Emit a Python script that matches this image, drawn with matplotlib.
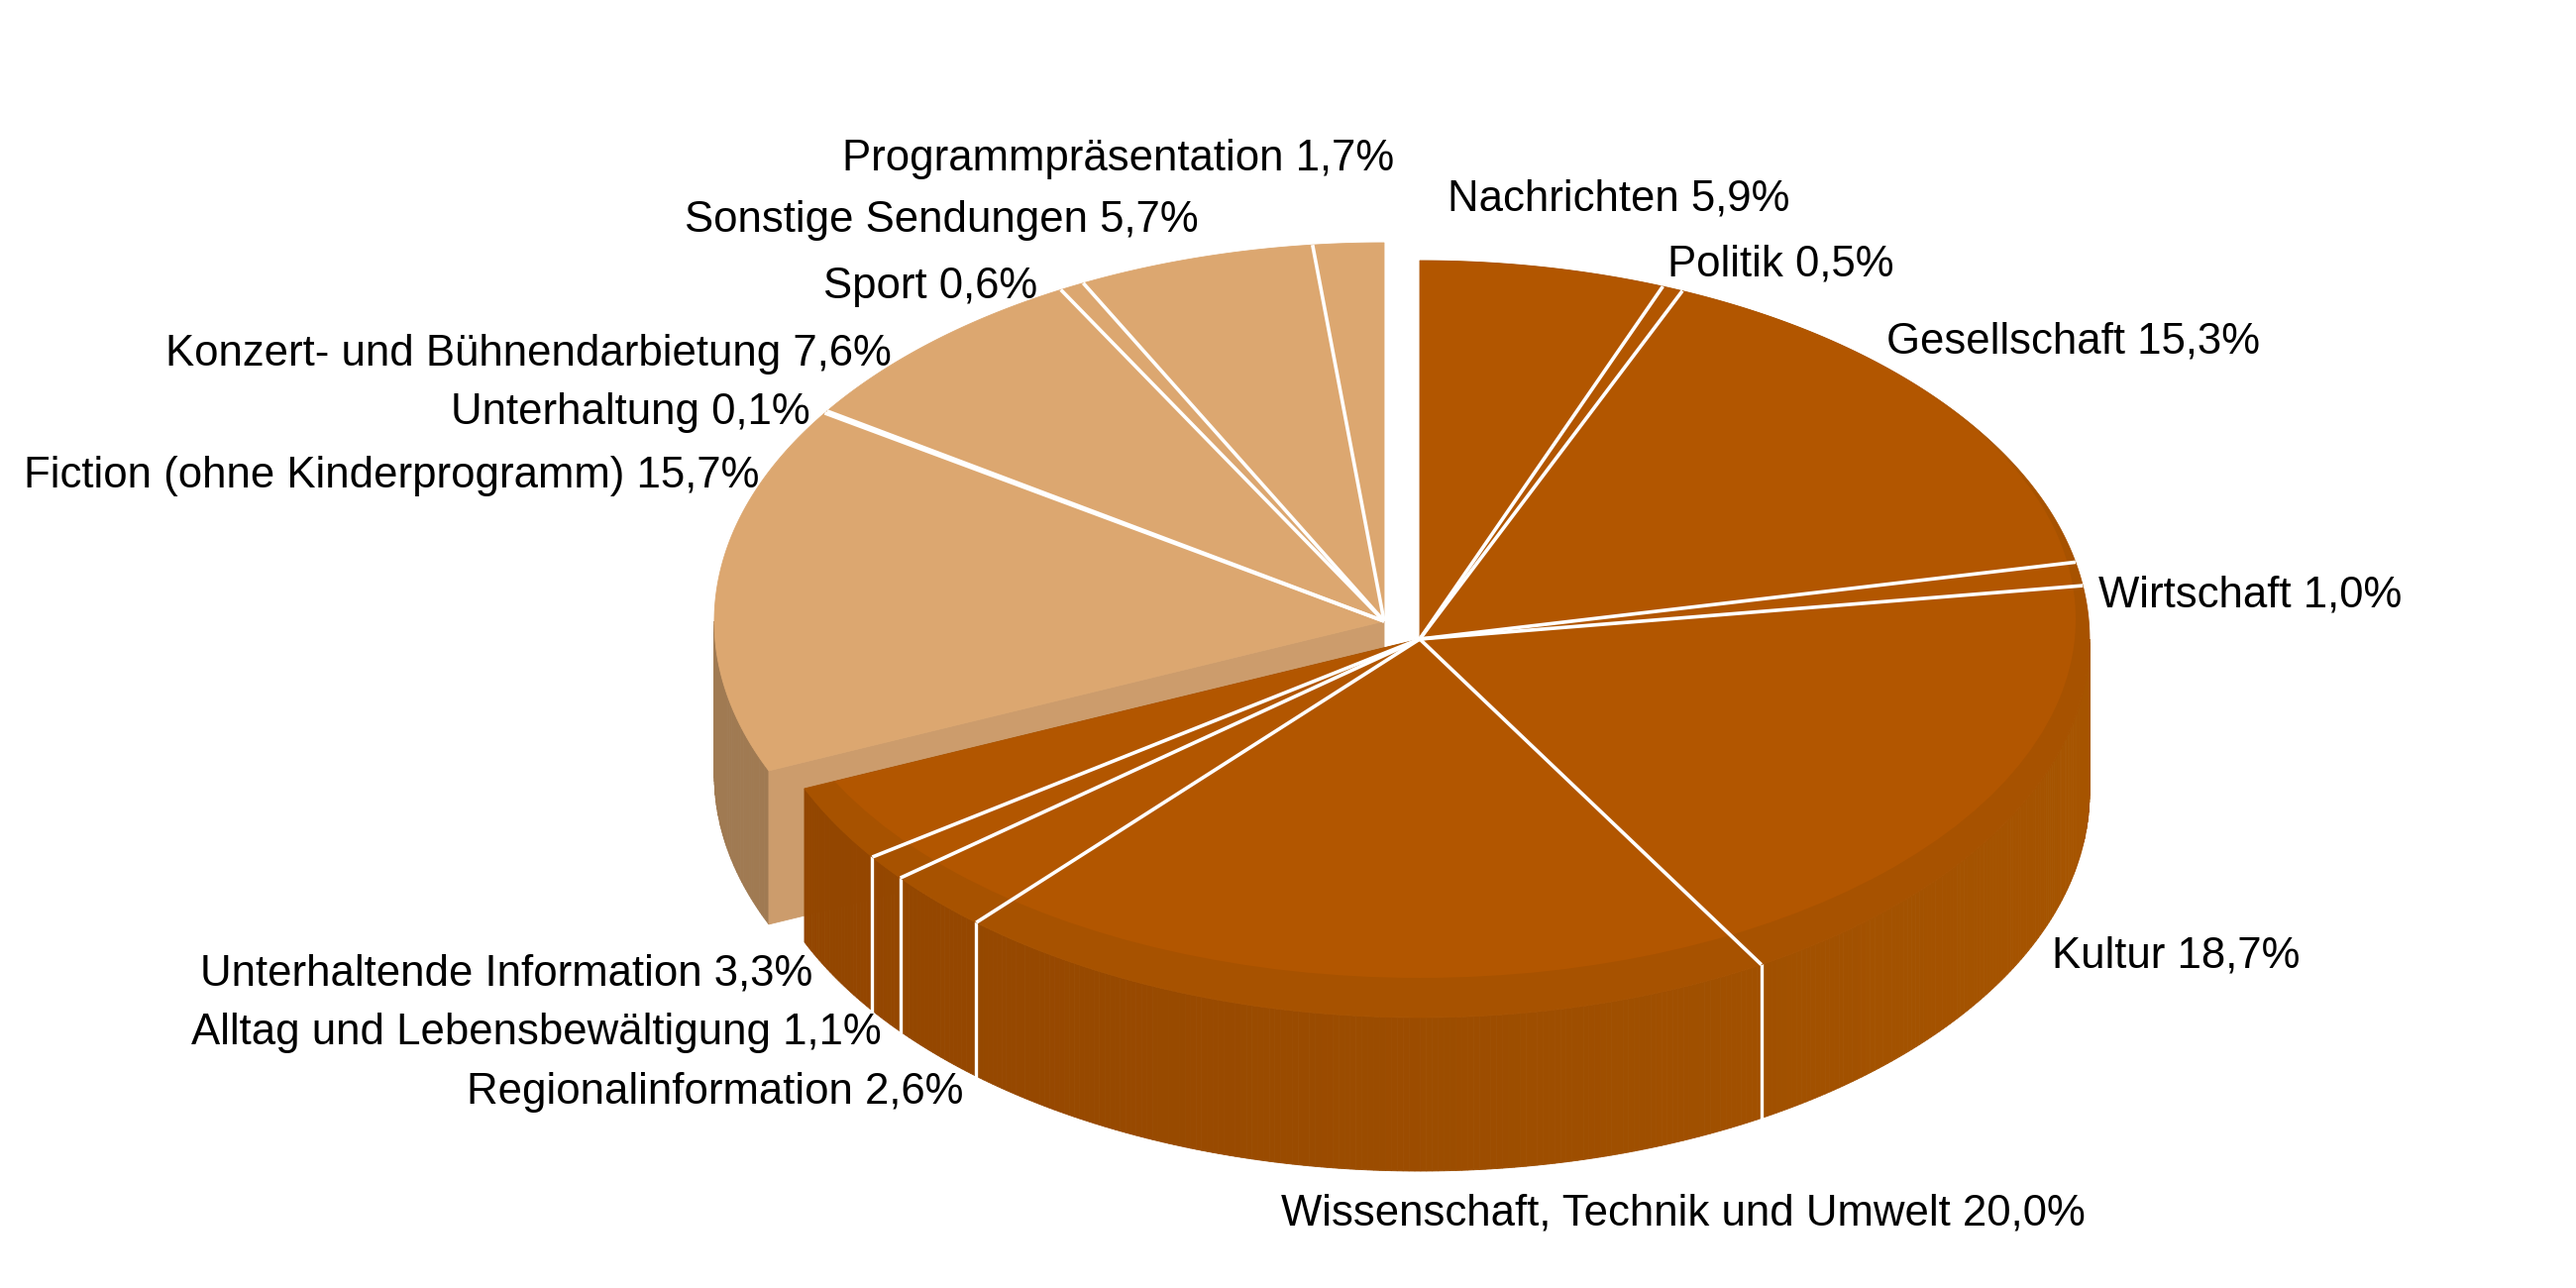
import numpy as np
import matplotlib.pyplot as plt
from matplotlib.patches import Polygon, Ellipse

plt.rcParams['font.family'] = ['Liberation Sans', 'DejaVu Sans']

# ---- data (clockwise from 12 o'clock) -------------------------------------
labels = ['Nachrichten', 'Politik', 'Gesellschaft', 'Wirtschaft', 'Kultur',
          'Wissenschaft, Technik und Umwelt', 'Regionalinformation',
          'Alltag und Lebensbewältigung', 'Unterhaltende Information',
          'Fiction (ohne Kinderprogramm)', 'Unterhaltung',
          'Konzert- und Bühnendarbietung', 'Sport', 'Sonstige Sendungen',
          'Programmpräsentation']
shares = [5.9, 0.5, 15.3, 1.0, 18.7, 20.0, 2.6, 1.1, 3.3,
          15.7, 0.1, 7.6, 0.6, 5.7, 1.7]
n_info = 9   # first 9 slices = information block, rest = entertainment

# label anchors (pixels): x, baseline y, alignment
label_pos = [(1461, 213, 'left'), (1683, 278, 'left'), (1904, 356, 'left'),
             (2118, 612, 'left'), (2071, 976, 'left'), (1293, 1236, 'left'),
             (972, 1114, 'right'), (890, 1054, 'right'), (820, 994, 'right'),
             (766, 492, 'right'), (818, 428, 'right'), (900, 369, 'right'),
             (1047, 301, 'right'), (1210, 234, 'right'), (1407, 172, 'right')]

# ---- geometry --------------------------------------------------------------
CX, CY = 1433, 645          # centre of the information block
RX, RY = 676, 382           # top ellipse radii
DEPTH = 155                 # thickness of the disc
SHIFT = (-36, -18)          # explode offset of entertainment block

INFO_TOP = '#b25600'
INFO_BAND = '#a75200'
ENT_TOP = '#dca770'
ENT_WALL = '#a07a52'
ENT_CUT = '#cc9c6c'

edges = np.concatenate([[0], np.cumsum(shares)]) / sum(shares) * 360.0


def rim(theta, cx, cy, dy=0.0):
    t = np.radians(theta)
    return cx + RX * np.sin(t), cy - RY * np.cos(t) + dy


def top_poly(a0, a1, cx, cy):
    th = np.linspace(a0, a1, max(int((a1 - a0) * 2), 2))
    xs, ys = rim(th, cx, cy)
    return np.column_stack([np.r_[cx, xs], np.r_[cy, ys]])


def wall(ax, a0, a1, cx, cy, colfun, z):
    th = np.linspace(a0, a1, max(int((a1 - a0) * 2), 2))
    for t0, t1 in zip(th[:-1], th[1:]):
        x0, y0 = rim(t0, cx, cy)
        x1, y1 = rim(t1, cx, cy)
        c = colfun(0.5 * (t0 + t1))
        ax.add_patch(Polygon([(x0, y0), (x1, y1), (x1, y1 + DEPTH), (x0, y0 + DEPTH)],
                             closed=True, fc=c, ec=c, lw=0.6, zorder=z))


fig = plt.figure(figsize=(26, 13), dpi=100)
ax = fig.add_axes([0, 0, 1, 1])
ax.set_xlim(0, 2600)
ax.set_ylim(1300, 0)
ax.axis('off')

# ---- entertainment block (behind) -----------------------------------------
ecx, ecy = CX + SHIFT[0], CY + SHIFT[1]
a_ent0 = edges[n_info]
wall(ax, a_ent0, 270, ecx, ecy, lambda t: ENT_WALL, 1)
kx, ky = rim(a_ent0, ecx, ecy)
ax.add_patch(Polygon([(ecx, ecy), (kx, ky), (kx, ky + DEPTH), (ecx, ecy + DEPTH)],
                     closed=True, fc=ENT_CUT, ec=ENT_CUT, lw=0.6, zorder=1))
ax.add_patch(Polygon(top_poly(a_ent0, 360, ecx, ecy), closed=True,
                     fc=ENT_TOP, ec=ENT_TOP, lw=0.6, zorder=2))
for a in edges[n_info + 1:-1]:
    x, y = rim(a, ecx, ecy)
    ax.plot([ecx, x], [ecy, y], color='white', lw=2.6, solid_capstyle='butt', zorder=3)

# ---- information block (front) --------------------------------------------
a_info1 = edges[n_info]


def info_wall_col(t):
    s = (np.sin(np.radians(t)) + 1) / 2       # 0 at left, 1 at right
    c0 = np.array([146, 69, 0]) / 255
    c1 = np.array([166, 84, 0]) / 255
    return tuple(c0 + (c1 - c0) * s)


wall(ax, 90, a_info1, CX, CY, info_wall_col, 4)
for a in edges[1:n_info]:
    if 90 < a < a_info1:
        x, y = rim(a, CX, CY)
        ax.plot([x, x], [y, y + DEPTH], color='white', lw=2.4, zorder=5)

info_top = Polygon(top_poly(0, a_info1, CX, CY), closed=True,
                   fc=INFO_BAND, ec=INFO_BAND, lw=0.6, zorder=6)
ax.add_patch(info_top)
inner = Ellipse((CX, CY - 20), 2 * (RX - 14), 2 * (RY - 20),
                fc=INFO_TOP, ec='none', zorder=7)
ax.add_patch(inner)
inner.set_clip_path(info_top)
for a in edges[1:n_info]:
    x, y = rim(a, CX, CY)
    ax.plot([CX, x], [CY, y], color='white', lw=2.6, solid_capstyle='butt', zorder=8)

# ---- labels ------------------------------------------------------------------
for lab, val, (x, y, ha) in zip(labels, shares, label_pos):
    txt = f'{lab} {val:.1f}%'.replace('.', ',')
    ax.text(x, y, txt, ha=ha, va='baseline', fontsize=31.5, color='black', zorder=10)

fig.savefig('out.png', dpi=100, facecolor='white')
